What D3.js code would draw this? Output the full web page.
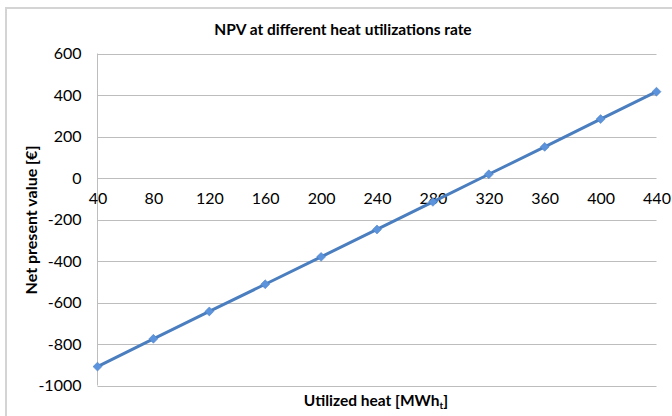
<!DOCTYPE html>
<html>
<head>
<meta charset="utf-8">
<script src="https://cdn.jsdelivr.net/npm/d3@7"></script>
<style>
  body { margin: 0; background: #fff; }
  svg { display: block; font-family: Lato, "Open Sans", sans-serif; }
</style>
</head>
<body>
<div id="chart"></div>
<script>
// utilized heat (MWh_t) and NPV
var heat = [40, 80, 120, 160, 200, 240, 280, 320, 360, 400, 440];
var npv = [-909, -775, -643, -512, -380, -248, -115, 18, 150, 284, 416];
var yTicks = [-1000, -800, -600, -400, -200, 0, 200, 400, 600];

var width = 672, height = 416;
var plotLeft = 97.5, plotRight = 656.5, plotTop = 53.5, plotBottom = 385.5;

var svg = d3.select('#chart')
  .append('svg')
  .attr('width', width)
  .attr('height', height);

// outer frame
svg.append('rect')
  .attr('x', 6)
  .attr('y', 8)
  .attr('width', 700)
  .attr('height', 440)
  .attr('fill', 'none')
  .attr('stroke', '#d4d4d4')
  .attr('stroke-width', 2);

var x = d3.scaleLinear().domain([40, 440]).range([plotLeft, plotRight]);
var y = d3.scaleLinear().domain([-1000, 600]).range([plotBottom, plotTop]);

// horizontal gridlines
svg.append('g')
  .selectAll('line')
  .data(yTicks)
  .enter()
  .append('line')
    .attr('x1', plotLeft)
    .attr('x2', plotRight)
    .attr('y1', function(d){ return Math.round(y(d)) + 0.5; })
    .attr('y2', function(d){ return Math.round(y(d)) + 0.5; })
    .attr('stroke', '#bdbdbd')
    .attr('stroke-width', 1);

// value axis line
svg.append('line')
  .attr('x1', plotLeft)
  .attr('x2', plotLeft)
  .attr('y1', y(600))
  .attr('y2', y(-1000))
  .attr('stroke', '#bdbdbd');

var plain = function(d){ return String(d); };

// y axis labels
var yAxis = d3.axisLeft(y).tickValues(yTicks).tickSize(0).tickPadding(16).tickFormat(plain);
svg.append('g')
  .attr('transform', 'translate(' + plotLeft + ',0)')
  .call(yAxis)
  .call(function(g){ g.select('.domain').remove(); })
  .selectAll('text')
    .attr('font-family', 'Lato, "Open Sans", sans-serif')
    .attr('font-size', 16)
    .attr('fill', '#000');

// x axis labels sit under the zero line
var xAxis = d3.axisBottom(x).tickValues(heat).tickSize(0).tickPadding(15).tickFormat(plain);
svg.append('g')
  .attr('transform', 'translate(0,' + y(0) + ')')
  .call(xAxis)
  .call(function(g){ g.select('.domain').remove(); })
  .selectAll('text')
    .attr('font-family', 'Lato, "Open Sans", sans-serif')
    .attr('font-size', 16)
    .attr('fill', '#000');

var pts = heat.map(function(h, i){ return [h, npv[i]]; });

var line = d3.line()
  .x(function(d){ return x(d[0]); })
  .y(function(d){ return y(d[1]); });

svg.append('path')
  .datum(pts)
  .attr('d', line)
  .attr('fill', 'none')
  .attr('stroke', '#4a7ebf')
  .attr('stroke-width', 3);

svg.append('g')
  .selectAll('path')
  .data(pts)
  .enter()
  .append('path')
    .attr('d', d3.symbol().type(d3.symbolSquare).size(40))
    .attr('transform', function(d){ return 'translate(' + x(d[0]) + ',' + y(d[1]) + ') rotate(45)'; })
    .attr('fill', '#5b93dc')
    .attr('stroke', '#4a7ebf')
    .attr('stroke-width', 0.5);

// titles
svg.append('text')
  .attr('x', 343)
  .attr('y', 35)
  .attr('text-anchor', 'middle')
  .attr('font-size', 15.5)
  .attr('font-weight', 'bold')
  .text('NPV at different heat utilizations rate');

svg.append('text')
  .attr('transform', 'translate(37,220) rotate(-90)')
  .attr('text-anchor', 'middle')
  .attr('font-size', 16)
  .attr('font-weight', 'bold')
  .text('Net present value [€]');

var xt = svg.append('text')
  .attr('x', 376)
  .attr('y', 406)
  .attr('text-anchor', 'middle')
  .attr('font-size', 15.5)
  .attr('font-weight', 'bold');
xt.append('tspan').text('Utilized heat [MWh');
xt.append('tspan').attr('font-size', 10).attr('dy', 3).text('t');
xt.append('tspan').attr('dy', -3).text(']');
</script>
</body>
</html>
